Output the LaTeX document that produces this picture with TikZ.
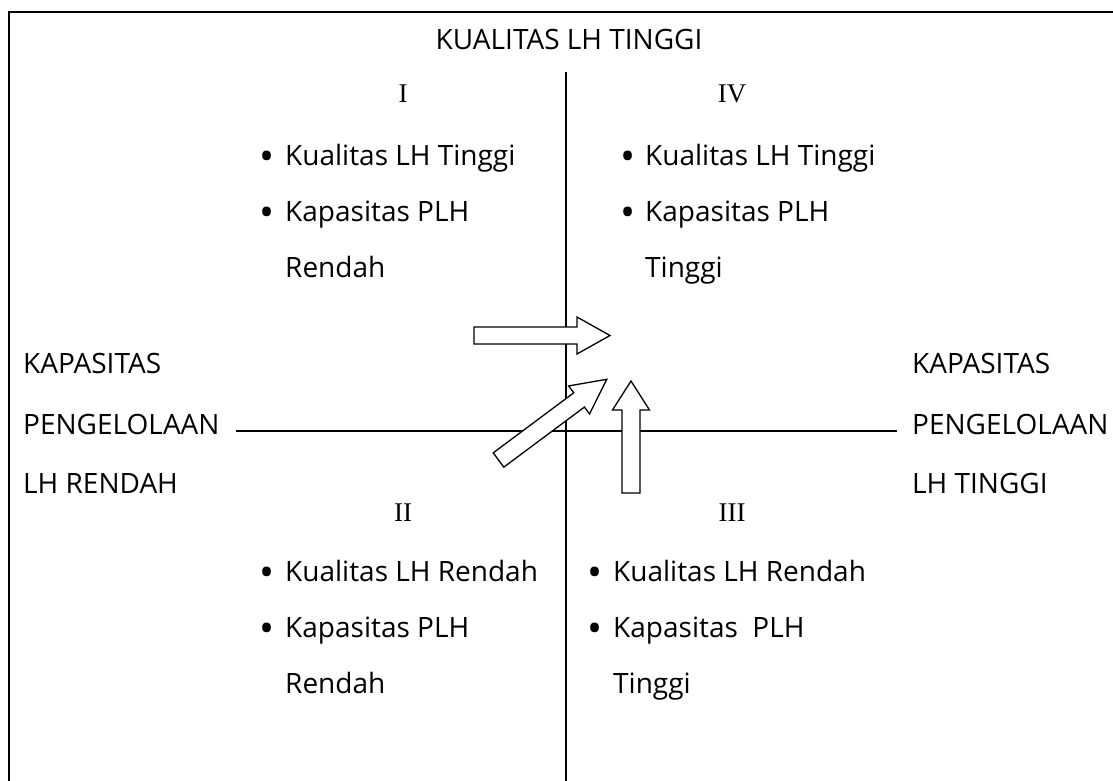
\documentclass[tikz,border=0pt]{standalone}
\usepackage{fontspec}
\setmainfont{Open Sans}
\newfontfamily\numfont{Liberation Serif}
\begin{document}
\begin{tikzpicture}[x=1pt,y=-1pt,
  txt/.style={font=\fontsize{28}{32}\selectfont, inner sep=0pt, anchor=base west},
  bul/.style={font=\fontsize{40}{44}\selectfont, inner sep=0pt, anchor=center},
  num/.style={font=\numfont\fontsize{27}{30}\selectfont, inner sep=0pt, anchor=base},
  axisline/.style={line width=2pt},
  fatarrow/.style={draw, line width=1.3pt, fill=white, line join=miter}]
\useasboundingbox (0,0) rectangle (1113,781);
% frame
\draw[axisline, line join=miter] (9,781) -- (9,12) -- (1113,12);
% axes
\coordinate (vtop) at (566,72);
\coordinate (vbot) at (566,781);
\coordinate (hl) at (236,431);
\coordinate (hr) at (897,431);
\draw[axisline] (vtop) -- (vbot);
\draw[axisline] (hl) -- (hr);
% title
\node[txt, anchor=base] (title) at (569,50) {KUALITAS LH TINGGI};
% side labels
\node[txt] (l1) at (23,373) {KAPASITAS};
\node[txt] (l2) at (23,434) {PENGELOLAAN};
\node[txt] (l3) at (23,493) {LH RENDAH};
\node[txt] (r1) at (912,373) {KAPASITAS};
\node[txt] (r2) at (912,434) {PENGELOLAAN};
\node[txt] (r3) at (912,493) {LH TINGGI};
% quadrant I
\node[num] (nI) at (403,103) {I};
\node[bul] (bI1) at (267,161) {•};
\node[txt] (tI1) at (285,165) {Kualitas LH Tinggi};
\node[bul] (bI2) at (267,217) {•};
\node[txt] (tI2) at (285,221) {Kapasitas PLH};
\node[txt] (tI3) at (285,277) {Rendah};
% quadrant IV
\node[num] (nIV) at (732,103) {IV};
\node[bul] (bIV1) at (628,161) {•};
\node[txt] (tIV1) at (645,165) {Kualitas LH Tinggi};
\node[bul] (bIV2) at (628,217) {•};
\node[txt] (tIV2) at (645,221) {Kapasitas PLH};
\node[txt] (tIV3) at (645,277) {Tinggi};
% quadrant II
\node[num] (nII) at (403,521) {II};
\node[bul] (bII1) at (267,577) {•};
\node[txt] (tII1) at (285,581) {Kualitas LH Rendah};
\node[bul] (bII2) at (267,633) {•};
\node[txt] (tII2) at (285,637) {Kapasitas PLH};
\node[txt] (tII3) at (285,693) {Rendah};
% quadrant III
\node[num] (nIII) at (732,521) {III};
\node[bul] (bIII1) at (595,577) {•};
\node[txt] (tIII1) at (613,581) {Kualitas LH Rendah};
\node[bul] (bIII2) at (595,633) {•};
\node[txt] (tIII2) at (613,637) {Kapasitas\ \ PLH};
\node[txt] (tIII3) at (613,693) {Tinggi};
% block arrows
\begin{scope}[shift={(474,335.5)}]
  \draw[fatarrow] (0,8.5) -- (103,8.5) -- (103,18.5) -- (136,0) -- (103,-18.5) -- (103,-8.5) -- (0,-8.5) -- cycle;
\end{scope}
\begin{scope}[shift={(498.5,460)}, rotate=36.7]
  \draw[fatarrow] (0,8.9) -- (100.5,8.9) -- (100.5,17.5) -- (135,0) -- (100.5,-17.5) -- (100.5,-8.9) -- (0,-8.9) -- cycle;
\end{scope}
\begin{scope}[shift={(631,493)}, rotate=90]
  \draw[fatarrow] (0,9) -- (83,9) -- (83,18.5) -- (112,0) -- (83,-18.5) -- (83,-9) -- (0,-9) -- cycle;
\end{scope}
\end{tikzpicture}
\end{document}
